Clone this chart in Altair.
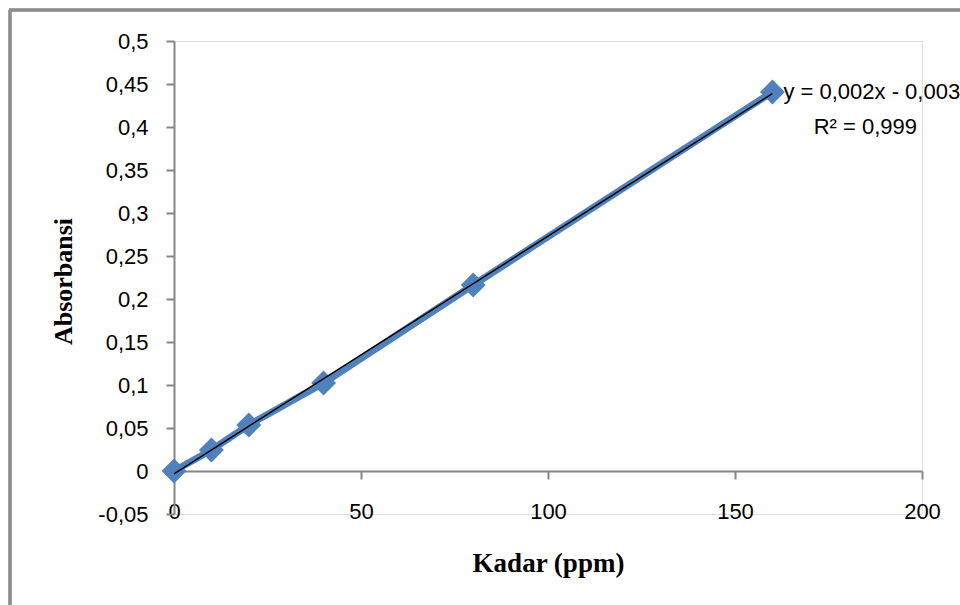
import altair as alt
import pandas as pd

# data
kadar = [0, 10, 20, 40, 80, 160]
absorbansi = [0.0, 0.0244, 0.0535, 0.1023, 0.2163, 0.4407]
x_ticks = [0, 50, 100, 150, 200]
y_ticks = [-0.05, 0.0, 0.05, 0.1, 0.15, 0.2, 0.25, 0.3, 0.35, 0.4, 0.45, 0.5]
eq_text = ["y = 0,002x - 0,003"]
r2_text = ["R² = 0,999"]

df = pd.DataFrame({"x": kadar, "y": absorbansi})
eq_df = pd.DataFrame({"x": [kadar[-1]], "y": [absorbansi[-1]], "t": eq_text})
r2_df = pd.DataFrame({"x": [kadar[-1]], "y": [absorbansi[-1]], "t": r2_text})

BLUE = "#4F81BD"
GREY = "#868686"
LABEL_FONT = "Liberation Sans"
TITLE_FONT = "Liberation Serif"

xs = alt.Scale(domain=[0, 200], nice=False, zero=False)
ys = alt.Scale(domain=[-0.05, 0.5], nice=False, zero=False)

x_enc = alt.X(
    "x:Q", scale=xs,
    axis=alt.Axis(
        values=x_ticks, grid=False, offset=-43,
        domainColor=GREY, domainWidth=2, tickColor=GREY, tickWidth=2, tickSize=8,
        labelFont=LABEL_FONT, labelFontSize=22, labelColor="#000000", labelPadding=22,
        labelFlush=False,
        title="Kadar (ppm)", titleFont=TITLE_FONT, titleFontSize=27, titleFontWeight="bold",
        titleColor="#000000", titleX=374, titleY=92, titleBaseline="middle", titleAlign="center",
    ),
)
y_enc = alt.Y(
    "y:Q", scale=ys,
    axis=alt.Axis(
        values=y_ticks, grid=False,
        domainColor=GREY, domainWidth=2, tickColor=GREY, tickWidth=2, tickSize=8,
        labelFont=LABEL_FONT, labelFontSize=22, labelColor="#000000", labelPadding=18,
        labelFlush=False,
        labelExpr="replace(replace(format(datum.value, '.2~f'), '.', ','), '\u2212', '-')",
        title="Absorbansi", titleFont=TITLE_FONT, titleFontSize=26, titleFontWeight="bold",
        titleColor="#000000", titleAngle=-90, titleX=-111, titleY=240,
        titleBaseline="middle", titleAlign="center",
    ),
)

base = alt.Chart(df)

line = base.mark_line(color=BLUE, strokeWidth=7).encode(x=x_enc, y=y_enc)
pts = base.mark_point(shape="diamond", filled=True, size=620, color=BLUE, opacity=1).encode(
    x=alt.X("x:Q", scale=xs), y=alt.Y("y:Q", scale=ys)
)
trend = base.transform_regression("x", "y").mark_line(color="#000000", strokeWidth=1.5).encode(
    x=alt.X("x:Q", scale=xs), y=alt.Y("y:Q", scale=ys)
)
eq = alt.Chart(eq_df).mark_text(
    align="left", baseline="middle", dx=11, dy=0, font=LABEL_FONT, fontSize=22, color="#000000"
).encode(x=alt.X("x:Q", scale=xs), y=alt.Y("y:Q", scale=ys), text="t:N")
r2 = alt.Chart(r2_df).mark_text(
    align="center", baseline="middle", dx=93, dy=35, font=LABEL_FONT, fontSize=22, color="#000000"
).encode(x=alt.X("x:Q", scale=xs), y=alt.Y("y:Q", scale=ys), text="t:N")

frame_left = alt.Chart(df).mark_rule(color="#8C8C8C", strokeWidth=2.5).encode(
    x=alt.value(-164), y=alt.value(-31), y2=alt.value(600)
)
frame_top = alt.Chart(df).mark_rule(color="#8C8C8C", strokeWidth=2.5).encode(
    x=alt.value(-165), x2=alt.value(800), y=alt.value(-31)
)

chart = alt.layer(frame_left, frame_top, line, pts, trend, eq, r2).properties(
    width=748, height=473,
    autosize=alt.AutoSizeParams(type="none"),
    padding={"left": 174, "top": 41, "right": 38, "bottom": 91},
).configure_view(stroke=None).configure(background="white")

chart.save("out.html", embed_options={"renderer": "svg", "actions": False})
